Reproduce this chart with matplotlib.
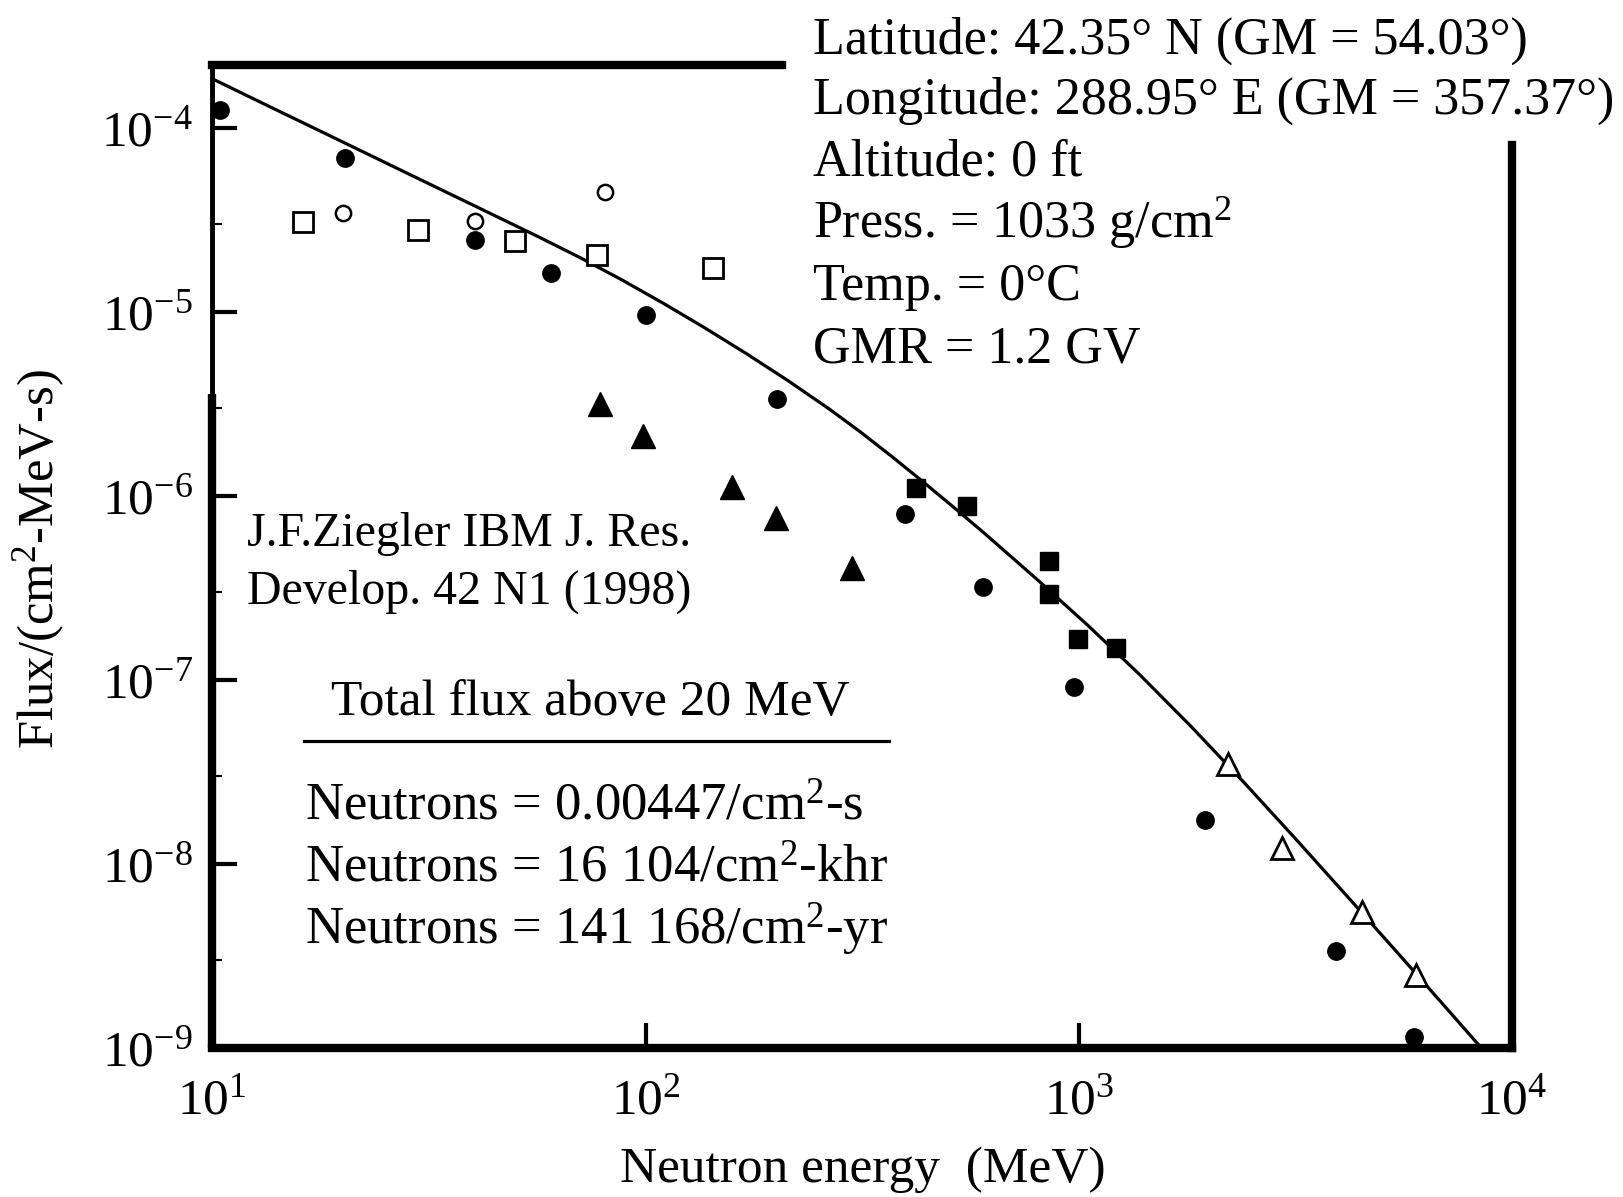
import matplotlib.pyplot as plt
import matplotlib.ticker as mticker
import numpy as np

plt.rcParams['font.family'] = ['Liberation Serif', 'DejaVu Serif']
plt.rcParams['mathtext.fontset'] = 'custom'
plt.rcParams['mathtext.rm'] = 'Liberation Serif'
plt.rcParams['mathtext.it'] = 'Liberation Serif:italic'

# calculated spectrum (solid line)
curve_x = [10.15, 13.54, 20.02, 29.27, 40.73, 56.66, 70.62, 88.0, 109.7, 136.7,
           170.3, 212.3, 264.6, 312.2, 368.2, 434.3, 512.3, 604.3, 795.9, 1048,
           1380, 1817, 2393, 3151, 4150, 5464, 7191, 8488]
curve_y = [1.826e-4, 1.313e-4, 8.41e-5, 5.45e-5, 3.74e-5, 2.566e-5, 1.979e-5, 1.502e-5,
           1.120e-5, 8.24e-6, 5.98e-6, 4.27e-6, 2.99e-6, 2.245e-6, 1.658e-6, 1.210e-6,
           8.76e-7, 6.30e-7, 3.57e-7, 1.986e-7, 1.073e-7, 5.58e-8, 2.81e-8, 1.384e-8,
           6.72e-9, 3.25e-9, 1.56e-9, 1.0e-9]

# measured points, one list per symbol
fcirc_x = [10.4, 20.2, 40.5, 60.5, 100, 201, 398, 600, 977, 1959, 3920, 5930]
fcirc_y = [1.25e-4, 6.9e-5, 2.47e-5, 1.64e-5, 9.6e-6, 3.36e-6, 8.0e-7, 3.2e-7,
           9.2e-8, 1.73e-8, 3.35e-9, 1.14e-9]

ocirc_x = [20, 40.5, 80.7]
ocirc_y = [3.45e-5, 3.14e-5, 4.5e-5]

osq_x = [16.2, 29.9, 50, 77.3, 143]
osq_y = [3.1e-5, 2.78e-5, 2.43e-5, 2.04e-5, 1.74e-5]

ftri_x = [78.5, 98.4, 158, 200, 299]
ftri_y = [3.18e-6, 2.12e-6, 1.12e-6, 7.6e-7, 4.04e-7]

fsq_x = [421, 552, 853, 853, 995, 1219]
fsq_y = [1.1e-6, 8.8e-7, 4.43e-7, 2.93e-7, 1.68e-7, 1.49e-7]

otri_x = [2207, 2944, 4498, 5998]
otri_y = [3.48e-8, 1.22e-8, 5.5e-9, 2.48e-9]

site_lines = ['Latitude: 42.35° N (GM = 54.03°)',
              'Longitude: 288.95° E (GM = 357.37°)',
              'Altitude: 0 ft',
              'Press. = 1033 g/cm$^2$',
              'Temp. = 0°C',
              'GMR = 1.2 GV']
total_lines = ['Neutrons = 0.00447/cm$^2$-s',
               'Neutrons = 16 104/cm$^2$-khr',
               'Neutrons = 141 168/cm$^2$-yr']

fig = plt.figure(figsize=(16.24, 11.97), dpi=100)
ax = fig.add_axes([0.1307, 0.1246, 0.8004, 0.8209])
ax.set_xscale('log')
ax.set_yscale('log')
ax.set_xlim(10, 1e4)
ax.set_ylim(1e-9, 2.2e-4)

ax.plot(curve_x, curve_y, color='black', lw=2.3, zorder=2, solid_joinstyle='round')

ax.plot(fcirc_x, fcirc_y, 'o', ms=12.5, color='black', zorder=3, clip_on=False)
ax.plot(ocirc_x, ocirc_y, 'o', ms=11, mfc='white', mec='black', mew=1.8, zorder=3)
ax.plot(osq_x, osq_y, 's', ms=14, mfc='white', mec='black', mew=2, zorder=3)
ax.plot(ftri_x, ftri_y, '^', ms=17, color='black', zorder=3)
ax.plot(fsq_x, fsq_y, 's', ms=12.5, color='black', zorder=3)
ax.plot(otri_x, otri_y, '^', ms=16.5, mfc='white', mec='black', mew=2, zorder=3)

# frame: thick, top and right only partly drawn as in the scan
for s in ['left', 'bottom', 'right', 'top']:
    ax.spines[s].set_linewidth(6)
    ax.spines[s].set_capstyle('projecting')
ax.spines['top'].set_bounds(10, 207)
ax.spines['right'].set_bounds(1e-9, 8.1e-5)
ax.spines['left'].set_linewidth(3.5)
ax.plot([0, 0], [0, 0.665], transform=ax.transAxes, color='black', lw=6,
        solid_capstyle='butt', clip_on=False, zorder=4)

fmt = mticker.FuncFormatter(lambda v, p: r'$10^{%d}$' % round(np.log10(v)))
ax.xaxis.set_major_locator(mticker.FixedLocator([10, 100, 1000, 10000]))
ax.yaxis.set_major_locator(mticker.FixedLocator([1e-9, 1e-8, 1e-7, 1e-6, 1e-5, 1e-4]))
ax.xaxis.set_major_formatter(fmt)
ax.yaxis.set_major_formatter(fmt)
ax.xaxis.set_minor_locator(mticker.NullLocator())
ax.yaxis.set_minor_locator(mticker.FixedLocator([3e-9, 3e-8, 3e-7, 3e-6, 3e-5]))
ax.yaxis.set_minor_formatter(mticker.NullFormatter())
ax.tick_params(which='major', direction='in', length=18, width=3, labelsize=37, pad=14,
               top=False, right=False)
ax.tick_params(axis='x', pad=22)
ax.tick_params(which='minor', direction='in', length=7, width=1.5, right=False)

ax.set_xlabel('Neutron energy  (MeV)', fontsize=37)
ax.xaxis.set_label_coords(0.5004, -0.100)
ax.set_ylabel('Flux/(cm$^2$-MeV-s)', fontsize=36.5)
ax.yaxis.set_label_coords(-0.1116, 0.497)

# site conditions, upper right
base_y = [0.955, 0.9048, 0.853, 0.801, 0.749, 0.697]
for line, yy in zip(site_lines, base_y):
    fig.text(0.5006, yy, line, fontsize=37.5, ha='left', va='baseline')

fig.text(0.1518, 0.544, 'J.F.Ziegler IBM J. Res.', fontsize=34.5, va='baseline')
fig.text(0.1518, 0.4957, 'Develop. 42 N1 (1998)', fontsize=34.5, va='baseline')

fig.text(0.3635, 0.403, 'Total flux above 20 MeV', fontsize=37, ha='center', va='baseline')
fig.add_artist(plt.Line2D([0.1869, 0.5472], [0.3806, 0.3806], color='black', lw=2.3))
for line, yy in zip(total_lines, [0.315, 0.263, 0.211]):
    fig.text(0.1881, yy, line, fontsize=38, ha='left', va='baseline')

fig.savefig('out.png', dpi=100)
